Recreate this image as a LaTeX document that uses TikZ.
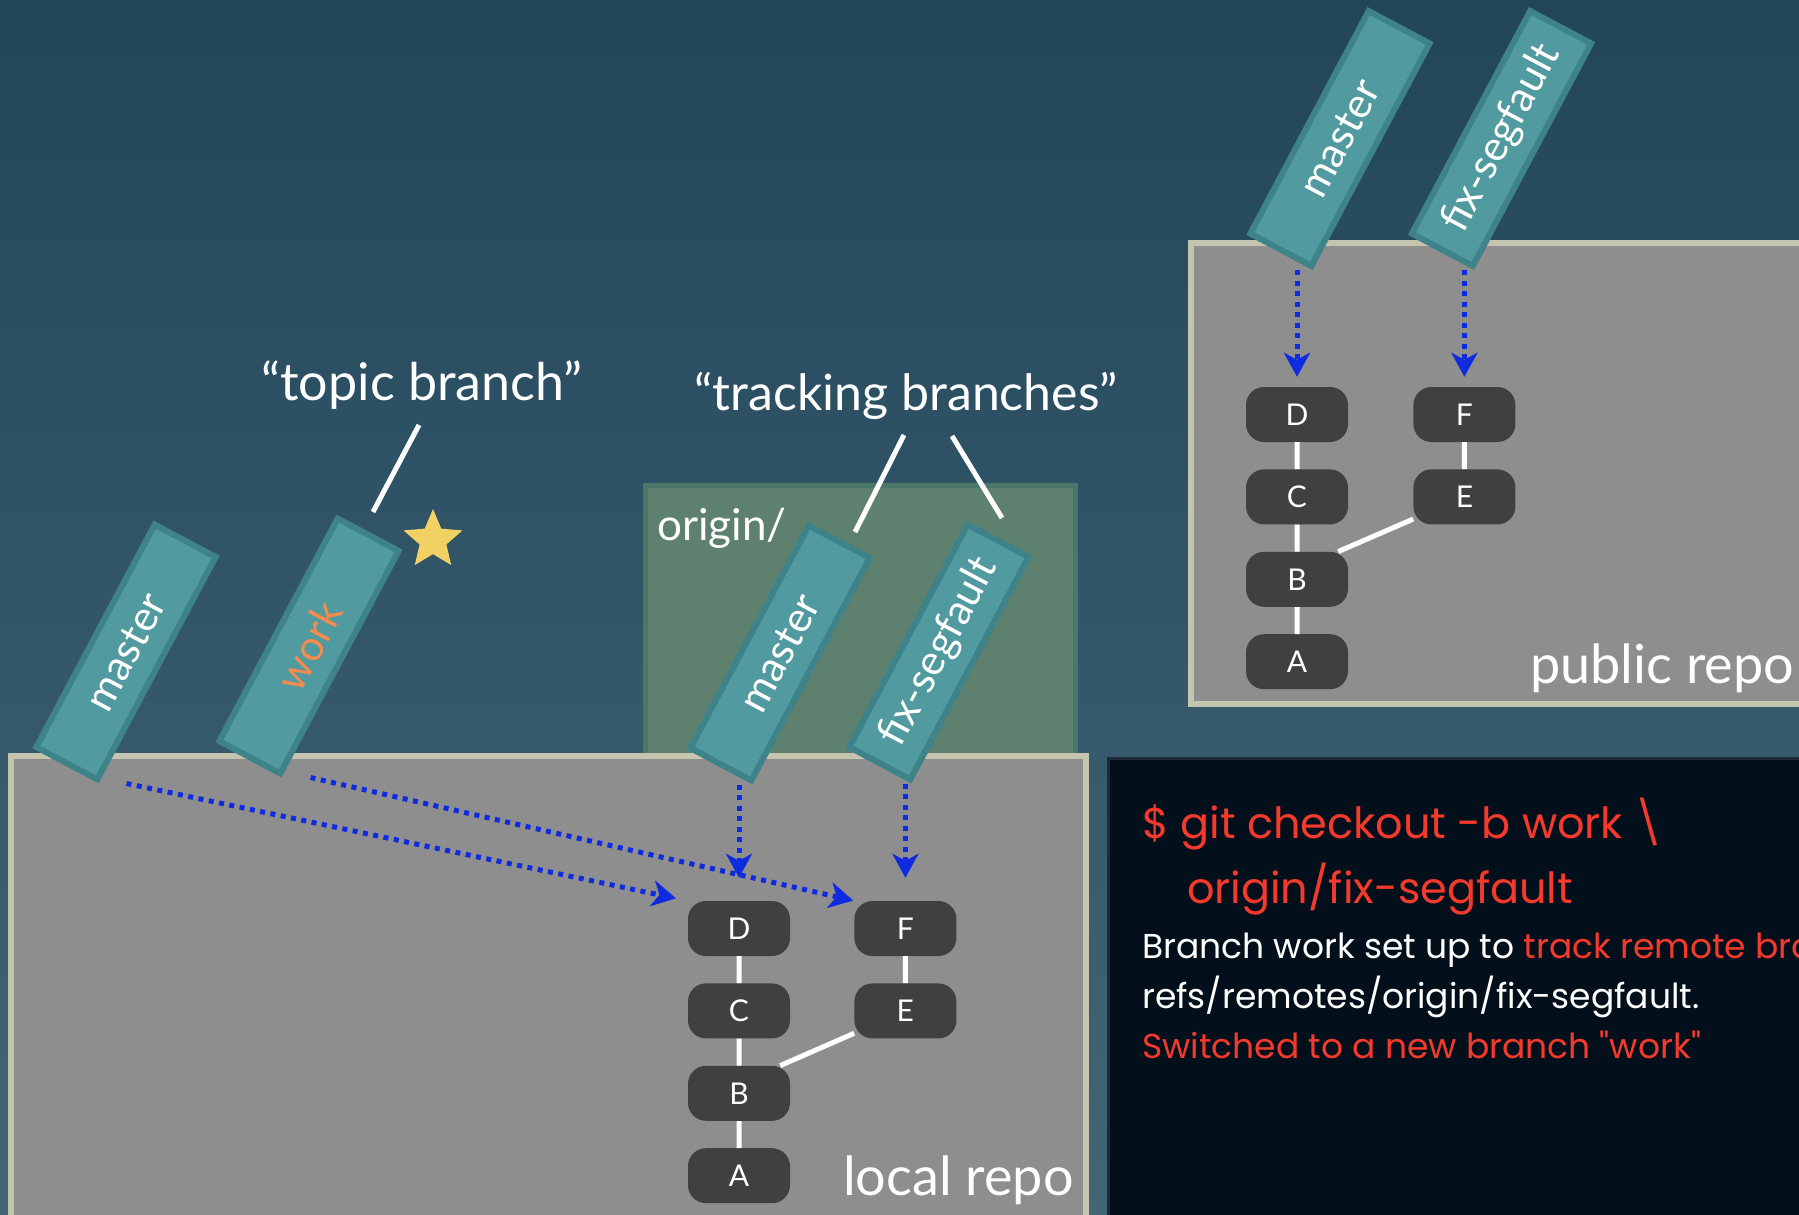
\documentclass[tikz,border=0pt]{standalone}
\usepackage{fontspec}
\setmainfont{Lato}
\newfontfamily\termfont{Poppins}[Ligatures=TeXOff]
\usetikzlibrary{positioning,shapes.geometric,arrows.meta}
\definecolor{bgtop}{HTML}{22455A}
\definecolor{bgbot}{HTML}{426676}
\definecolor{repogray}{HTML}{8E8E8E}
\definecolor{repoedge}{HTML}{C4C4AF}
\definecolor{origfill}{HTML}{5E806E}
\definecolor{origedge}{HTML}{4B776B}
\definecolor{tagfill}{HTML}{519A9F}
\definecolor{tagedge}{HTML}{3F838A}
\definecolor{commitfill}{HTML}{404040}
\definecolor{ptrblue}{HTML}{0F2BE0}
\definecolor{termbg}{HTML}{03101C}
\definecolor{termedge}{HTML}{1C2B3A}
\definecolor{termred}{HTML}{F5392B}
\definecolor{workorange}{HTML}{F58B4C}
\definecolor{stary}{HTML}{F2D163}

\begin{document}
\begin{tikzpicture}[x=1pt, y=-1pt,
    tag/.style={draw=tagedge, fill=tagfill, line width=6pt, minimum width=252pt, minimum height=69pt, inner sep=0pt, rotate=62, text=white, font=\fontsize{42}{50}\selectfont},
    commit/.style={fill=commitfill, rounded corners=18pt, minimum width=102pt, minimum height=55pt, inner sep=0pt, text=white, font=\fontsize{30}{36}\selectfont},
    repo/.style={draw=repoedge, fill=repogray, line width=6pt},
    ptr/.style={draw=ptrblue, line width=5pt, dash pattern=on 5pt off 5.5pt, -{Stealth[length=24pt, width=26pt, inset=7pt]}},
    link/.style={draw=white, line width=5pt},
    callout/.style={draw=white, line width=5pt},
    label/.style={text=white, inner sep=0pt, font=\fontsize{52}{60}\selectfont},
    term/.style={inner sep=0pt, anchor=base west, text=termred, font=\termfont\fontsize{43}{50}\selectfont},
    termsmall/.style={term, font=\termfont\fontsize{34.5}{42}\selectfont}]
    \useasboundingbox (0,0) rectangle (1799,1215);
    \clip (0,0) rectangle (1799,1215);
    \shade[top color=bgtop, bottom color=bgbot] (0,0) rectangle (1799,1215);
    \draw[draw=origedge, fill=origfill, line width=5pt] (645.5,485.5) rectangle (1075.5,800);
    \draw[repo] (11,756) rectangle (1086,1240);
    \draw[repo] (1191,243) rectangle (1830,704);
    \draw[draw=termedge, fill=termbg, line width=3pt] (1108.5,758.5) rectangle (1830,1240);

    \node[label, anchor=base] (topic) at (422,400) {“topic branch”};
    \node[label, anchor=base, font=\fontsize{50}{60}\selectfont] (tracking) at (906,410) {“tracking branches”};
    \node[label, anchor=base west, font=\fontsize{44}{50}\selectfont] (origin) at (657,540) {origin/};
    \node[label, anchor=base west, font=\fontsize{54}{60}\selectfont] (local) at (843,1195) {local repo};
    \node[label, anchor=base west, font=\fontsize{54}{60}\selectfont] (public) at (1530,683) {public repo};
    \node[star, star points=5, star point ratio=2.2, fill=stary, minimum size=62pt, inner sep=0pt] (star) at (433,540) {};

    \coordinate (tp1) at (419,425);
    \coordinate (tp2) at (373,512);
    \coordinate (tr1) at (904,435);
    \coordinate (tr2) at (855,532);
    \coordinate (tr3) at (952,436);
    \coordinate (tr4) at (1002,518);
    \draw[callout] (tp1) -- (tp2);
    \draw[callout] (tr1) -- (tr2);
    \draw[callout] (tr3) -- (tr4);

    \node[tag] (lM) at (126,652) {master};
    \node[tag, text=workorange] (lW) at (309,646) {work};
    \node[tag] (oM) at (780,653) {master};
    \node[tag] (oF) at (939,652) {fix-segfault};
    \node[tag] (pM) at (1340,138.5) {master};
    \node[tag] (pF) at (1501.5,138.5) {fix-segfault};

    \node[commit] (lD) at (739,928.5) {D};
    \node[commit, below=27pt of lD] (lC) {C};
    \node[commit, below=27pt of lC] (lB) {B};
    \node[commit, below=27pt of lB] (lA) {A};
    \node[commit, right=64pt of lD] (lF) {F};
    \node[commit, below=27pt of lF] (lE) {E};
    \node[commit] (pD) at (1297,414.5) {D};
    \node[commit, below=27pt of pD] (pC) {C};
    \node[commit, below=27pt of pC] (pB) {B};
    \node[commit, below=27pt of pB] (pA) {A};
    \node[commit, right=65pt of pD] (pF2) {F};
    \node[commit, below=27pt of pF2] (pE) {E};
    \draw[link] (lD) -- (lC) -- (lB) -- (lA) (lF) -- (lE) -- ([xshift=-10pt]lB.north east);
    \draw[link] (pD) -- (pC) -- (pB) -- (pA) (pF2) -- (pE) -- ([xshift=-10pt]pB.north east);

    \draw[ptr, shorten >=12pt] ([xshift=28pt]lM.south west) -- (lD.north west);
    \draw[ptr, shorten >=1pt] ([xshift=29pt]lW.south west) -- (lF.north west);
    \draw[ptr, shorten >=23pt] (lD.north |- oM.south west) -- (lD.north);
    \draw[ptr, shorten >=23pt] (lF.north |- oF.south west) -- (lF.north);
    \draw[ptr, shorten >=10pt] (pD.north |- pM.south west) -- (pD.north);
    \draw[ptr, shorten >=10pt] (pF2.north |- pF.south west) -- (pF2.north);

    \node[term] (cmd) at (1142,838) {\$ git checkout -b work \textbackslash};
    \node[term] (cmdb) at (1187,903) {origin/fix-segfault};
    \node[termsmall, text=white] (out1) at (1142,958) {Branch work set up to \textcolor{termred}{track remote branch}};
    \node[termsmall, text=white] (out2) at (1142,1008) {refs/remotes/origin/fix-segfault.};
    \node[termsmall] (out3) at (1142,1058) {Switched to a new branch "work"};
\end{tikzpicture}
\end{document}
